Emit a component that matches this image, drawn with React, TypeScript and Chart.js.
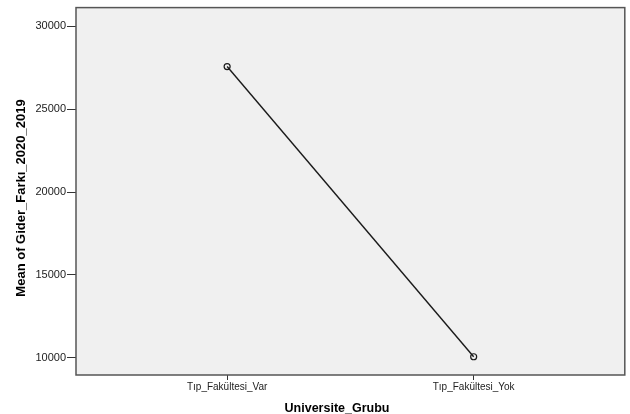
import React, { useEffect, useRef } from "react";
import { Chart, registerables } from "chart.js";

Chart.register(...registerables);

const categories = ["Tıp_Fakültesi_Var", "Tıp_Fakültesi_Yok"];
const meanValues = [27570, 10060];
const yTickValues = [10000, 15000, 20000, 25000, 30000];
const xTitle = "Universite_Grubu";
const yTitle = "Mean of Gider_Farkı_2020_2019";

const frame = {
  id: "spssFrame",
  beforeDraw(chart: any) {
    const { ctx, chartArea: a } = chart;
    ctx.save();
    ctx.fillStyle = "#f0f0f0";
    ctx.fillRect(a.left, a.top, a.right - a.left, a.bottom - a.top);
    ctx.restore();
  },
  beforeDatasetsDraw(chart: any) {
    const { ctx, chartArea: a } = chart;
    ctx.save();
    ctx.strokeStyle = "#555555";
    ctx.lineWidth = 1.5;
    ctx.strokeRect(a.left, a.top, a.right - a.left, a.bottom - a.top);
    ctx.restore();
  },
  afterDraw(chart: any) {
    const { ctx } = chart;
    ctx.save();
    ctx.fillStyle = "#000";
    ctx.textAlign = "center";
    ctx.textBaseline = "alphabetic";
    ctx.font = "bold 12.5px 'Liberation Sans'";
    ctx.fillText(xTitle, 337, 411.5);
    ctx.textBaseline = "middle";
    ctx.translate(21, 198);
    ctx.rotate(-Math.PI / 2);
    ctx.font = "bold 13px 'Liberation Sans'";
    ctx.fillText(yTitle, 0, 0);
    ctx.restore();
  },
};

export default function App() {
  const ref = useRef<HTMLCanvasElement>(null);
  useEffect(() => {
    document.body.style.margin = "0";
    const chart = new Chart(ref.current!, {
      type: "line",
      data: {
        datasets: [
          {
            data: meanValues.map((v, i) => ({ x: i, y: v })),
            borderColor: "#1a1a1a",
            borderWidth: 1.4,
            pointRadius: 3,
            pointBorderWidth: 1.2,
            pointBorderColor: "#1a1a1a",
            pointBackgroundColor: "rgba(0,0,0,0)",
            tension: 0,
          },
        ],
      },
      options: {
        responsive: false,
        animation: false,
        layout: { padding: { left: 0, top: 7, right: 3, bottom: 0 } },
        plugins: { legend: { display: false }, tooltip: { enabled: false } },
        scales: {
          x: {
            type: "linear",
            min: -0.613,
            max: 1.613,
            afterBuildTicks: (s: any) => {
              s.ticks = categories.map((_, i) => ({ value: i }));
            },
            afterFit: (s: any) => {
              s.height = 39;
            },
            grid: { drawOnChartArea: false, drawTicks: true, tickLength: 5, color: "#333" },
            border: { display: false },
            ticks: {
              callback: (v: any) => categories[v] ?? "",
              font: { family: "'Liberation Sans'", size: 10 },
              color: "#222",
              padding: 1,
              maxRotation: 0,
            },
          },
          y: {
            min: 8958,
            max: 31127,
            afterBuildTicks: (s: any) => {
              s.ticks = yTickValues.map((v) => ({ value: v }));
            },
            afterFit: (s: any) => {
              s.width = 76;
            },
            grid: { drawOnChartArea: false, drawTicks: true, tickLength: 9, color: "#333" },
            border: { display: false },
            ticks: {
              font: { family: "'Liberation Sans'", size: 11 },
              color: "#222",
              padding: 1,
              callback: (v: any) => String(v),
            },
          },
        },
      },
      plugins: [frame],
    });
    return () => chart.destroy();
  }, []);
  return <canvas ref={ref} width={630} height={414} style={{ display: "block", width: 630, height: 414 }} />;
}
